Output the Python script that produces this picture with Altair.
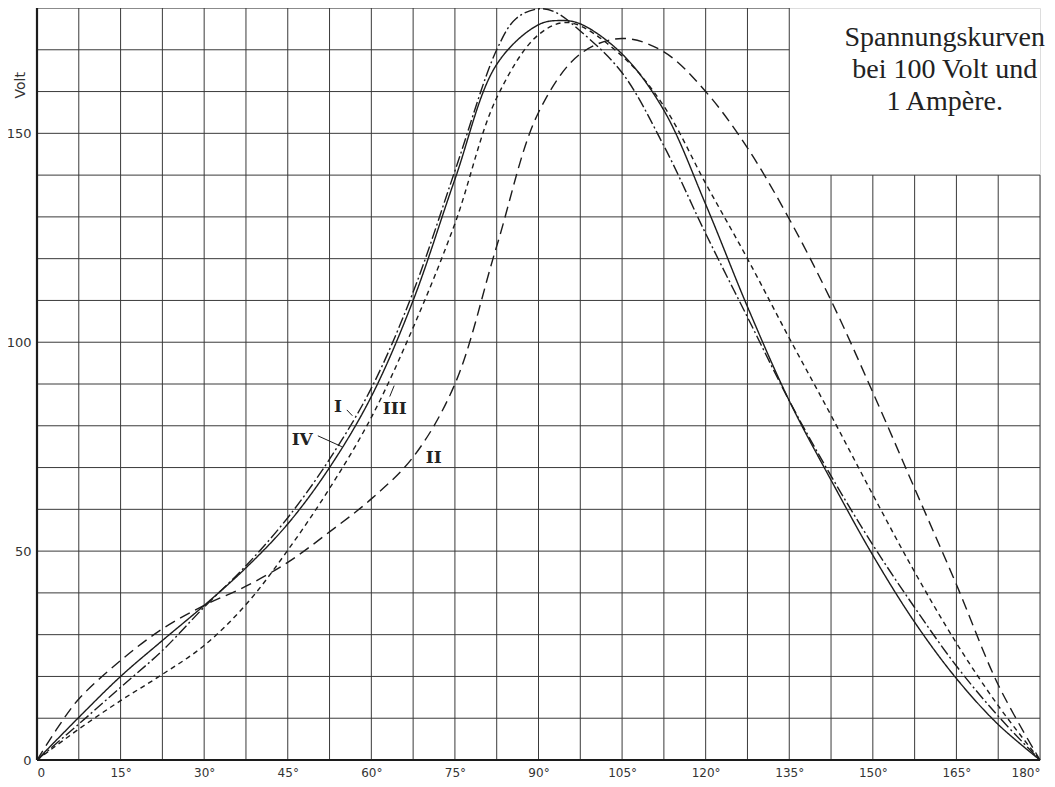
import altair as alt
import pandas as pd

# ---------------- data ----------------
angles_I = [0, 7.5, 15, 22.5, 30, 37.5, 45, 52.5, 60, 67.5, 75, 82.5, 86, 90, 93, 97.5, 105, 112.5, 120, 127.5, 135, 142.5, 150, 157.5, 165, 172.5, 180]
volts_I = [0, 8.6, 17.4, 26.2, 36.6, 46.5, 58, 72, 89, 112, 141, 170, 177.5, 179.8, 179, 174.5, 164.5, 147, 126, 106, 86, 68, 51.5, 36.5, 22.5, 10.5, 0]

angles_II = [0, 3.75, 7.5, 15, 22.5, 30, 37.5, 45, 52.5, 60, 67.5, 75, 82.5, 90, 97.5, 105, 112.5, 120, 127.5, 135, 142.5, 150, 157.5, 165, 172.5, 180]
volts_II = [0, 7.8, 14.6, 23.8, 31.4, 37, 41.6, 47.3, 54.6, 62.5, 72.5, 90, 123, 155, 169, 172.7, 169.5, 160, 146.5, 129.5, 110, 88, 65, 42, 18, 0]

angles_III = [0, 7.5, 15, 22.5, 30, 37.5, 45, 52.5, 60, 67.5, 75, 82.5, 90, 95.5, 105, 112.5, 120, 127.5, 135, 142.5, 150, 157.5, 165, 172.5, 180]
volts_III = [0, 7.4, 14.2, 20.5, 27.4, 37.2, 50.2, 65, 82, 103.5, 128.4, 158.5, 173.6, 176.5, 168.5, 156.5, 138, 120, 101, 82.5, 63.5, 45, 28, 13, 0]

angles_IV = [0, 7.5, 15, 22.5, 30, 37.5, 45, 52.5, 60, 67.5, 75, 82.5, 90, 94, 97.5, 105, 112.5, 120, 127.5, 135, 142.5, 150, 157.5, 165, 172.5, 180]
volts_IV = [0, 10.2, 20, 28.6, 37, 46, 56.5, 70, 87, 110, 139, 166.5, 176, 177, 176.2, 169, 155.5, 133, 108.5, 86, 67, 49, 33, 19.5, 8.5, 0]

x_ticks = [0, 15, 30, 45, 60, 75, 90, 105, 120, 135, 150, 165, 180]
y_ticks = [0, 50, 100, 150]
grid_x = [i * 7.5 for i in range(25)]
grid_y = [i * 10 for i in range(19)]
title_lines = ["Spannungskurven", "bei 100 Volt und", "1 Ampère."]

# ---------------- tables ----------------
curves = pd.concat([
    pd.DataFrame({"Winkel": angles_I, "Volt": volts_I, "Kurve": "I"}),
    pd.DataFrame({"Winkel": angles_II, "Volt": volts_II, "Kurve": "II"}),
    pd.DataFrame({"Winkel": angles_III, "Volt": volts_III, "Kurve": "III"}),
    pd.DataFrame({"Winkel": angles_IV, "Volt": volts_IV, "Kurve": "IV"}),
], ignore_index=True)

vgrid = pd.DataFrame({"x": grid_x, "y0": 0, "y1": [180 if g <= 135 else 140 for g in grid_x]})
hgrid = pd.DataFrame({"y": grid_y, "x0": 0, "x1": [180 if g <= 140 else 135 for g in grid_y]})

xs = alt.Scale(domain=[0, 180], nice=False, zero=False)
ys = alt.Scale(domain=[0, 180], nice=False, zero=False)
ax_x = alt.Axis(values=x_ticks, labelExpr="datum.value == 0 ? '0' : datum.value + '°'",
                ticks=False, domain=False, grid=False, title=None,
                labelFont="DejaVu Sans", labelFontSize=12, labelColor="#333",
                labelPadding=7, labelFlush=True)
ax_y = alt.Axis(values=y_ticks, ticks=False, domain=False, grid=False, title=None,
                labelFont="DejaVu Sans", labelFontSize=13, labelColor="#333",
                labelPadding=6, labelFlush=False)
ink = "#1c1c1c"
gridc = "#3a3a3a"


def X(field=None, **kw):
    if field is None:
        return alt.X(scale=xs, axis=ax_x, **kw)
    return alt.X(field, scale=xs, axis=ax_x, **kw)


def Y(field=None, **kw):
    if field is None:
        return alt.Y(scale=ys, axis=ax_y, **kw)
    return alt.Y(field, scale=ys, axis=ax_y, **kw)


vrules = alt.Chart(vgrid).mark_rule(color=gridc, strokeWidth=1).encode(
    x=X("x:Q"), y=Y("y0:Q"), y2="y1:Q")
hrules = alt.Chart(hgrid).mark_rule(color=gridc, strokeWidth=1).encode(
    y=Y("y:Q"), x=X("x0:Q"), x2="x1:Q")

one = pd.DataFrame({"a": [0]})
frame = alt.Chart(one).mark_rule(color=ink, strokeWidth=2.2).encode(
    x=X(datum=0), y=Y(datum=0), y2=alt.Y2(datum=180))
base = alt.Chart(one).mark_rule(color=ink, strokeWidth=2.2).encode(
    y=Y(datum=0), x=X(datum=0), x2=alt.X2(datum=180))

lines = alt.Chart(curves).mark_line(color=ink, strokeWidth=1.4, interpolate="catmull-rom").encode(
    x=X("Winkel:Q"),
    y=Y("Volt:Q"),
    strokeDash=alt.StrokeDash("Kurve:N", legend=None,
                              scale=alt.Scale(domain=["I", "II", "III", "IV"],
                                              range=[[11, 3, 2, 3], [11, 6], [5, 4], [1, 0]])),
    detail="Kurve:N",
)

volt_label = alt.Chart(pd.DataFrame({"t": ["Volt"]})).mark_text(
    angle=270, font="DejaVu Sans", fontSize=14, color="#333", align="center", baseline="middle"
).encode(text="t:N", x=alt.value(-16), y=Y(datum=161.5))

title = alt.Chart(pd.DataFrame({"t": ["\n".join(title_lines)]})).mark_text(
    font="Liberation Serif", fontSize=28, lineHeight=32, color="#222", align="center",
    baseline="alphabetic", lineBreak="\n"
).encode(text="t:N", x=X(datum=162.9), y=Y(datum=170.9))


def numeral(txt, xd, yd):
    return alt.Chart(pd.DataFrame({"t": [txt]})).mark_text(
        font="DejaVu Serif", fontSize=17, fontWeight="bold", color="#222",
        align="center", baseline="middle"
    ).encode(text="t:N", x=X(datum=xd), y=Y(datum=yd))


def leader(x0, y0, x1, y1):
    return alt.Chart(one).mark_rule(color=ink, strokeWidth=1).encode(
        x=X(datum=x0), y=Y(datum=y0), x2=alt.X2(datum=x1), y2=alt.Y2(datum=y1))


labels = [
    numeral("I", 54.0, 84.5),
    numeral("III", 64.2, 84.0),
    numeral("IV", 47.6, 76.6),
    numeral("II", 71.2, 72.4),
    leader(55.6, 83.8, 56.6, 82.4),
    leader(50.4, 77.6, 54.7, 75.0),
    leader(63.3, 87.0, 64.1, 89.6),
]

chart = alt.layer(vrules, hrules, frame, base, lines, volt_label, title, *labels).properties(
    width=1003, height=752,
    autosize=alt.AutoSizeParams(type="none"),
    padding={"left": 29, "top": 0, "right": 7, "bottom": 19},
).configure_view(stroke=None).configure(background="white")

chart.save("out.html", embed_options={"renderer": "svg", "actions": False})
